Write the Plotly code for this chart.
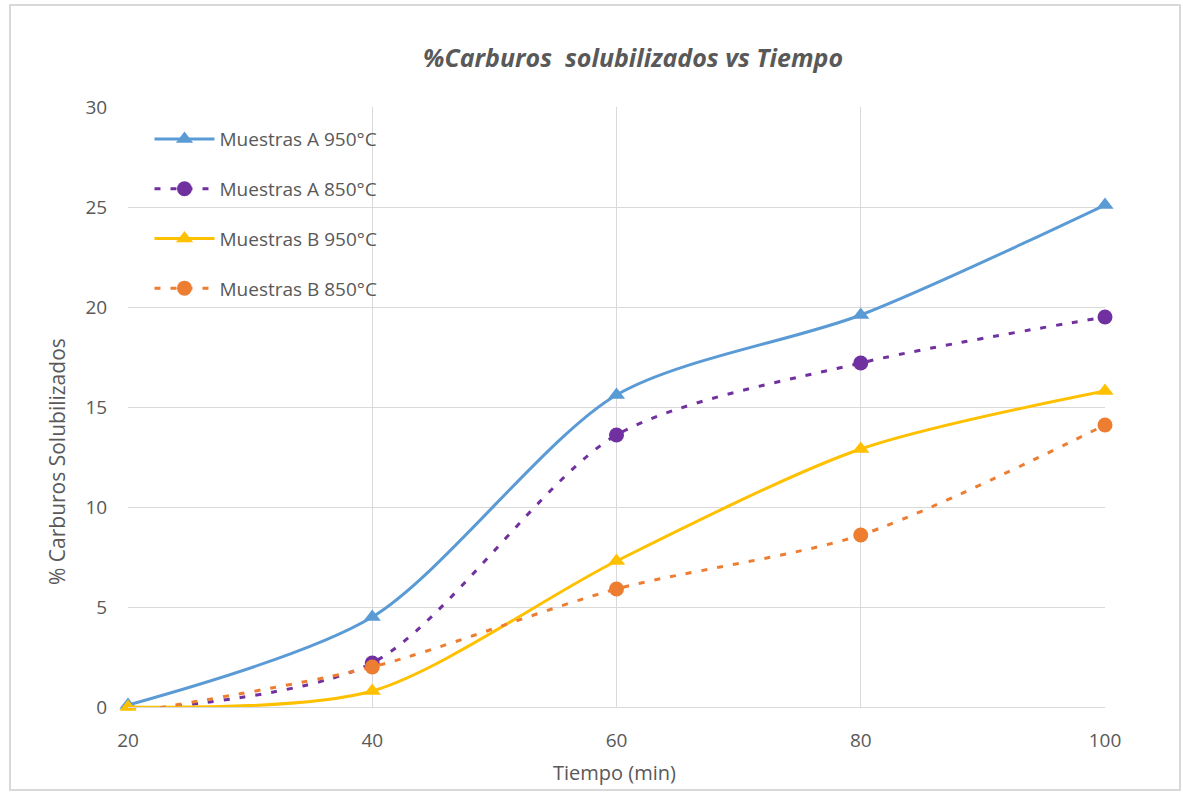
import plotly.graph_objects as go

# Tiempo de tratamiento (min)
tiempo = [20, 40, 60, 80, 100]

# % de carburos solubilizados por muestra y temperatura
a_950 = [0.1, 4.5, 15.6, 19.6, 25.1]
a_850 = [-0.2, 2.2, 13.6, 17.2, 19.5]
b_950 = [0.0, 0.8, 7.3, 12.9, 15.8]
b_850 = [-0.3, 2.0, 5.9, 8.6, 14.1]

nombres = ["Muestras A 950°C", "Muestras A 850°C", "Muestras B 950°C", "Muestras B 850°C"]
colores = ["#5B9BD5", "#7030A0", "#FFC000", "#ED7D31"]
simbolos = ["triangle-up", "circle", "triangle-up", "circle"]
guiones = ["solid", "6px,10px", "solid", "6px,10px"]
series = [a_950, a_850, b_950, b_850]

TEXT = "#595959"
FONT = "Open Sans, DejaVu Sans, sans-serif"

fig = go.Figure()
for i, (nombre, datos) in enumerate(zip(nombres, series)):
    fig.add_trace(go.Scatter(
        x=tiempo, y=datos, name=nombre, mode="lines+markers",
        line=dict(color=colores[i], width=3, dash=guiones[i], shape="spline", smoothing=0.8),
        marker=dict(symbol=simbolos[i], size=15, color=colores[i]),
        legendgroup=str(i), cliponaxis=False,
    ))

fig.update_layout(
    width=1183, height=794,
    margin=dict(l=128, r=78, t=107, b=87),
    paper_bgcolor="white", plot_bgcolor="white",
    font=dict(family=FONT, color=TEXT, size=15),
    showlegend=True,
    legend=dict(
        x=0.022, y=0.978, xanchor="left", yanchor="top",
        bgcolor="rgba(255,255,255,0)", font=dict(size=19, color=TEXT),
        tracegroupgap=22, itemwidth=60,
    ),
    xaxis=dict(
        range=[20, 100], tickvals=tiempo, ticktext=[str(t) for t in tiempo],
        showgrid=True, gridcolor="#D9D9D9", gridwidth=1,
        showline=True, linecolor="#D9D9D9", linewidth=1,
        ticks="outside", ticklen=16, tickcolor="rgba(0,0,0,0)",
        tickfont=dict(size=19, color=TEXT), zeroline=False,
    ),
    yaxis=dict(
        range=[0, 30], tickvals=[0, 5, 10, 15, 20, 25, 30],
        showgrid=True, gridcolor="#D9D9D9", gridwidth=1,
        showline=False, zeroline=False,
        ticks="outside", ticklen=16, tickcolor="rgba(0,0,0,0)",
        tickfont=dict(size=19, color=TEXT),
    ),
    annotations=[
        dict(text="<b><i>%Carburos  solubilizados vs Tiempo</i></b>",
             xref="paper", yref="paper", x=(633 - 128) / 977, y=1 + (107 - 57) / 600,
             xanchor="center", yanchor="middle", showarrow=False,
             font=dict(size=25, color=TEXT)),
        dict(text="Tiempo (min)",
             xref="paper", yref="paper", x=(614 - 128) / 977, y=-(772 - 707) / 600,
             xanchor="center", yanchor="middle", showarrow=False,
             font=dict(size=20, color=TEXT)),
        dict(text="% Carburos Solubilizados", textangle=-90,
             xref="paper", yref="paper", x=-(128 - 57) / 977, y=(707 - 462) / 600,
             xanchor="center", yanchor="middle", showarrow=False,
             font=dict(size=21, color=TEXT)),
    ],
    shapes=[
        dict(type="rect", xref="paper", yref="paper",
             x0=-(128 - 10) / 977, x1=1 + (1180 - 1105) / 977,
             y0=-(790 - 707) / 600, y1=1 + (107 - 5) / 600,
             line=dict(color="#D9D9D9", width=2), fillcolor="rgba(0,0,0,0)", layer="below"),
    ],
)

fig.write_html("out.html")
